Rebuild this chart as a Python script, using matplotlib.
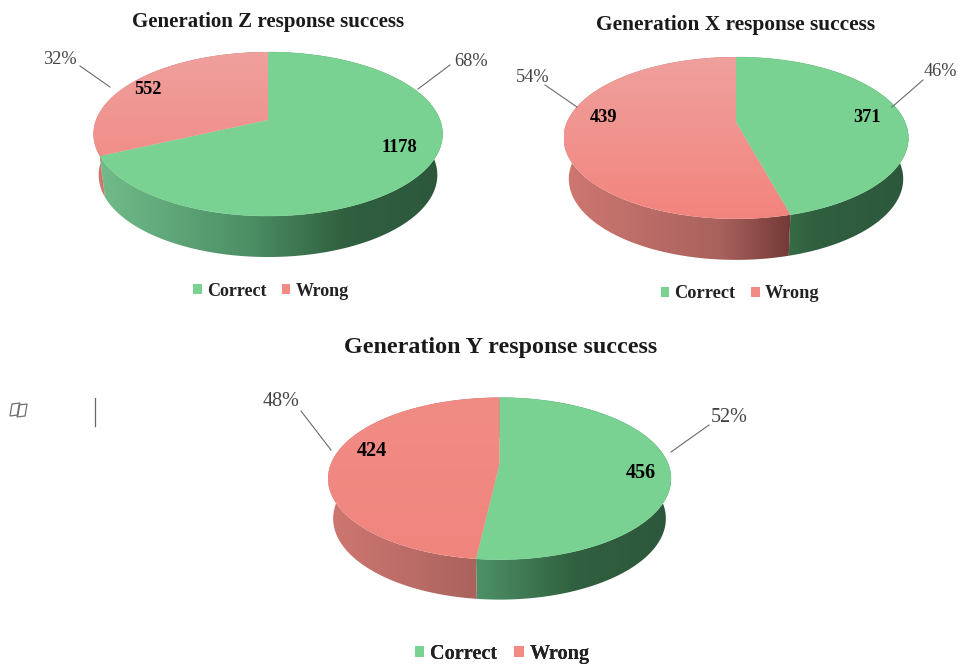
import numpy as np
import matplotlib
matplotlib.use("Agg")
import matplotlib.pyplot as plt
from matplotlib.colors import LinearSegmentedColormap
from matplotlib.patches import Patch, Polygon

plt.rcParams["font.family"] = ["Liberation Serif", "DejaVu Serif"]

W, H = 958, 666

# Response counts per generation
categories = ["Correct", "Wrong"]
gen_z_counts = [1178, 552]
gen_x_counts = [371, 439]
gen_y_counts = [456, 424]

GREEN = "#79D292"
RED_TOP = "#EFA09D"
RED_LOW = "#F3847D"
LEGEND_COLORS = [GREEN, "#F28B84"]

wall_green = LinearSegmentedColormap.from_list(
    "wall_green", [(0, "#72BE8B"), (0.45, "#4C8E65"), (0.72, "#30603F"), (1, "#2C573B")])
wall_red = LinearSegmentedColormap.from_list(
    "wall_red", [(0, "#CF7771"), (0.45, "#A9625D"), (0.68, "#6E3533"), (1, "#6E3533")])
top_red_soft = LinearSegmentedColormap.from_list("top_red_soft", [RED_TOP, RED_LOW])
top_red_flat = LinearSegmentedColormap.from_list("top_red_flat", ["#F08C84", "#F1857E"])

# Layout of each tilted pie, in figure pixels
pies = [
    dict(title="Generation Z response success", counts=gen_z_counts, cx=268, cy=120,
         a=79.6, b=172, k=0.171, depth=41, title_xy=(268, 22), title_size=15.1,
         pct_xy=[(471, 62), (60, 60)],
         leaders=[((418, 89), (450, 65)), ((110, 87), (80, 66))],
         val_xy=[(399, 148), (148, 90)], legend_xy=(271, 291), red=top_red_soft,
         label_size=13.2, legend_size=13.0),
    dict(title="Generation X response success", counts=gen_x_counts, cx=736, cy=122,
         a=77.8, b=169, k=0.197, depth=41, title_xy=(736, 25), title_size=15.4,
         pct_xy=[(940, 72), (533, 78)],
         leaders=[((892, 107), (923, 80)), ((577, 107), (545, 85))],
         val_xy=[(867, 117), (604, 118)], legend_xy=(740, 294), red=top_red_soft,
         label_size=13.2, legend_size=13.2),
    dict(title="Generation Y response success", counts=gen_y_counts, cx=499.5, cy=464,
         a=78.4, b=168.7, k=0.18, depth=40, title_xy=(501, 347), title_size=17.3,
         pct_xy=[(729, 417), (281, 402)],
         leaders=[((671, 452), (709, 425)), ((331, 450), (301, 411))],
         val_xy=[(641, 473), (372, 451)], legend_xy=(502, 654), red=top_red_flat,
         label_size=14.5, legend_size=14.6),
]

fig = plt.figure(figsize=(W / 100, H / 100), dpi=100)
ax = fig.add_axes([0, 0, 1, 1])
ax.set_xlim(0, W)
ax.set_ylim(H, 0)
ax.axis("off")


def rim(p, theta, lower=False):
    """Project angles (clockwise from 12 o'clock) on to the tilted disc."""
    sx, cy = np.sin(theta), np.cos(theta)
    den = 1 + p["k"] * cy
    shrink = 0.97 if lower else 1.0
    x = p["cx"] + shrink * p["b"] * sx / den
    y = p["cy"] - p["a"] * cy / den + (p["depth"] if lower else 0)
    return x, y


def gradient_fill(xy, data, cmap, extent, z):
    poly = Polygon(xy, closed=True, facecolor="none", edgecolor="none", transform=ax.transData)
    ax.add_patch(poly)
    im = ax.imshow(data, cmap=cmap, extent=extent, aspect="auto", zorder=z, vmin=0, vmax=1,
                   interpolation="bilinear")
    im.set_clip_path(poly)


for p in pies:
    shares = np.array(p["counts"], dtype=float) / sum(p["counts"])
    edges = np.concatenate([[0], np.cumsum(shares)]) * 2 * np.pi
    half_w = p["b"] / np.sqrt(1 - p["k"] ** 2)
    left, right = p["cx"] - half_w, p["cx"] + half_w
    top_y = p["cy"] - p["a"] / (1 + p["k"])
    low_y = p["cy"] + p["a"] / (1 - p["k"])
    h_ramp = np.linspace(0, 1, 256).reshape(1, -1)
    v_ramp = np.linspace(0, 1, 256).reshape(-1, 1)

    # Outer walls first, then the top face over them
    for i, wall_cmap in enumerate([wall_green, wall_red]):
        theta = np.linspace(edges[i], edges[i + 1], 300)
        ux, uy = rim(p, theta)
        lx, ly = rim(p, theta, lower=True)
        wall = np.column_stack([np.r_[ux, lx[::-1]], np.r_[uy, ly[::-1]]])
        gradient_fill(wall, h_ramp, wall_cmap, (left, right, low_y + p["depth"] + 2, top_y), 2)

    for i in range(2):
        theta = np.linspace(edges[i], edges[i + 1], 300)
        ux, uy = rim(p, theta)
        face = np.column_stack([np.r_[p["cx"], ux], np.r_[p["cy"], uy]])
        if i == 0:
            ax.add_patch(Polygon(face, closed=True, facecolor=GREEN, edgecolor=GREEN,
                                 linewidth=0.3, zorder=3))
        else:
            gradient_fill(face, v_ramp, p["red"], (left, right, low_y, top_y), 3)

    ax.text(*p["title_xy"], p["title"], ha="center", va="center", fontsize=p["title_size"],
            fontweight="bold", color="#1a1a1a", zorder=5)

    for i in range(2):
        ax.text(*p["val_xy"][i], str(p["counts"][i]), ha="center", va="center",
                fontsize=p["label_size"], fontweight="bold", color="black", zorder=5)
        ax.text(*p["pct_xy"][i], f"{shares[i] * 100:.0f}%", ha="center", va="center",
                fontsize=p["label_size"], color="#444444", zorder=5)
        (x0, y0), (x1, y1) = p["leaders"][i]
        ax.plot([x0, x1], [y0, y1], color="#6b6b6b", linewidth=0.8, zorder=4)

    handles = [Patch(facecolor=c, edgecolor="none") for c in LEGEND_COLORS]
    leg = ax.legend(handles, categories, ncols=2, loc="center", bbox_to_anchor=p["legend_xy"],
                    bbox_transform=ax.transData, frameon=False, handlelength=0.47,
                    handleheight=0.47, handletextpad=0.28, columnspacing=0.85,
                    prop=dict(family="Liberation Serif", weight="bold", size=p["legend_size"]),
                    labelcolor="#222222", borderpad=0, borderaxespad=0)
    ax.add_artist(leg)

# Stray drawing marks left of the lower pie
ax.plot([95.5, 95.5], [398, 426], color="#666666", linewidth=0.9)
for dx, dy in ((0, 0), (7, 1)):
    ax.add_patch(Polygon([(12 + dx, 404 + dy), (20 + dx, 403 + dy), (18 + dx, 415 + dy),
                          (10 + dx, 416 + dy)],
                         closed=True, facecolor="none", edgecolor="#6f6f6f", linewidth=0.9))

ax.set_xlim(0, W)
ax.set_ylim(H, 0)
fig.savefig("out.png", dpi=100, facecolor="white")
